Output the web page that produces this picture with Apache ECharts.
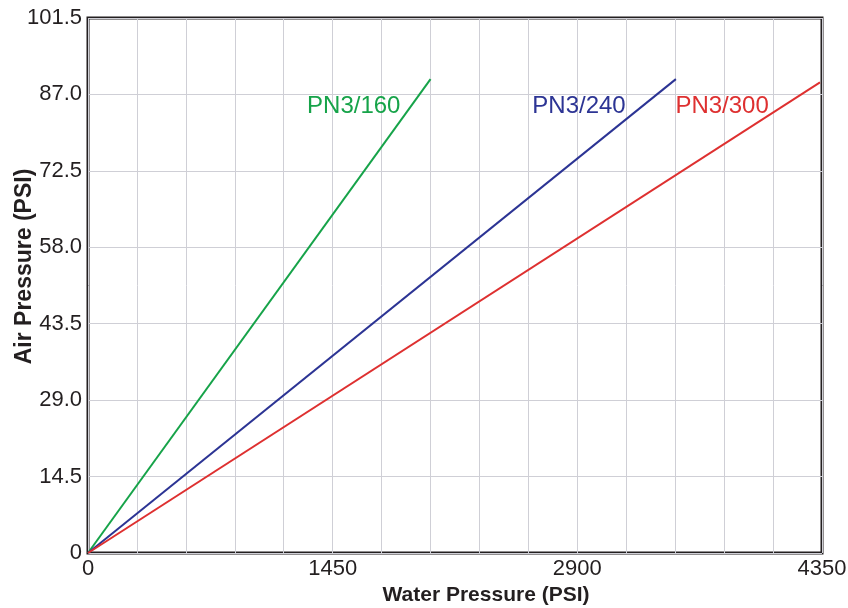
<!DOCTYPE html>
<html><head><meta charset="utf-8">
<script src="https://cdn.jsdelivr.net/npm/echarts@6/dist/echarts.min.js"></script>
<style>html,body{margin:0;padding:0;background:#fff}#c{width:848px;height:608px}</style>
</head><body><div id="c"></div>
<script>
const seriesNames = ['PN3/160', 'PN3/240', 'PN3/300'];
const seriesColors = ['#16a349', '#2c3494', '#de3030'];
const pn160 = [[0, 0], [2030, 89.9]];
const pn240 = [[0, 0], [3484, 89.9]];
const pn300 = [[0, 0], [4338, 89.3]];
const labelPos = [[1575, 84.8], [2910, 84.8], [3758, 84.8]];
const xTicks = [0, 1450, 2900, 4350];
const yTicks = [0, 14.5, 29, 43.5, 58, 72.5, 87, 101.5];

const font = 'Liberation Sans, Arial, sans-serif';
const data = [pn160, pn240, pn300];
const chart = echarts.init(document.getElementById('c'));
chart.setOption({
  animation: false,
  grid: {left: 88, right: 26, top: 18, bottom: 55, show: true, borderColor: '#231f20', borderWidth: 3,
         containLabel: false, outerBoundsMode: 'none'},
  xAxis: {
    type: 'value', min: xTicks[0], max: xTicks[xTicks.length-1], interval: 1450,
    name: 'Water Pressure (PSI)', nameLocation: 'middle', nameGap: 32, nameMoveOverlap: false,
    nameTextStyle: {fontFamily: font, fontWeight: 'bold', fontSize: 21, color: '#231f20', padding: [0,0,0,62]},
    axisLine: {show: false}, axisTick: {show: false},
    axisLabel: {fontFamily: font, fontSize: 22, color: '#231f20', margin: 5, formatter: v => String(v)},
    splitLine: {show: true, lineStyle: {color: '#cfcfd6', width: 1}},
    minorTick: {show: false, splitNumber: 5},
    minorSplitLine: {show: true, lineStyle: {color: '#cfcfd6', width: 1}}
  },
  yAxis: {
    type: 'value', min: yTicks[0], max: yTicks[yTicks.length-1], interval: 14.5,
    name: 'Air Pressure (PSI)', nameLocation: 'middle', nameGap: 52, nameRotate: 90, nameMoveOverlap: false,
    nameTextStyle: {fontFamily: font, fontWeight: 'bold', fontSize: 23, color: '#231f20', padding: [0,0,0,38]},
    axisLine: {show: false}, axisTick: {show: false},
    axisLabel: {fontFamily: font, fontSize: 22, color: '#231f20', margin: 6,
      formatter: v => v === 0 ? '0' : v.toFixed(1)},
    splitLine: {show: true, lineStyle: {color: '#cfcfd6', width: 1}}
  },
  series: data.map((d, i) => ({
    type: 'line', name: seriesNames[i], data: d, symbol: 'none',
    lineStyle: {color: seriesColors[i], width: 2},
    markPoint: {
      symbol: 'circle', symbolSize: 0, silent: true,
      label: {show: true, formatter: seriesNames[i], color: seriesColors[i], fontFamily: font, fontSize: 24, position: 'inside'},
      data: [{coord: labelPos[i]}]
    }
  }))
});
</script></body></html>
